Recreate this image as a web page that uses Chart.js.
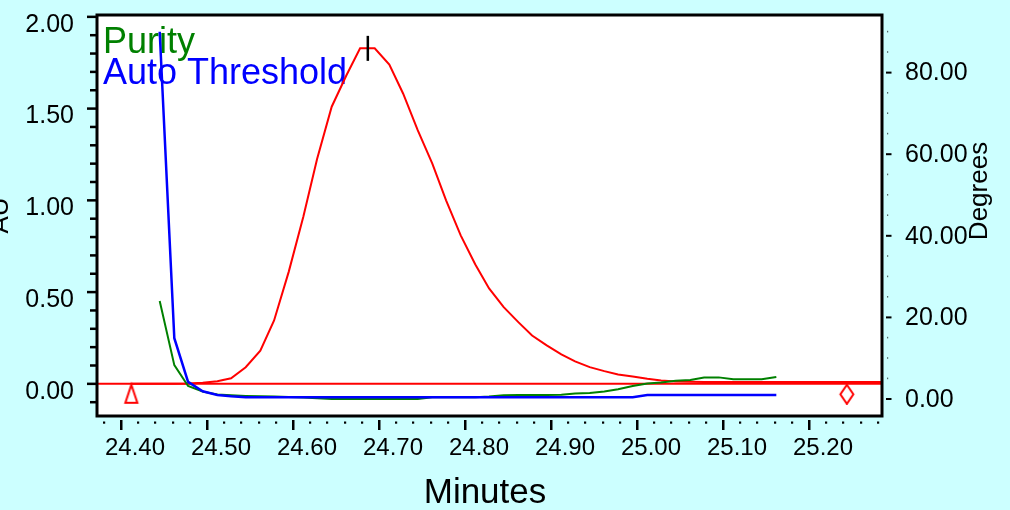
<!DOCTYPE html>
<html>
<head>
<meta charset="utf-8">
<script src="https://cdn.jsdelivr.net/npm/chart.js@4/dist/chart.umd.min.js"></script>
<style>
  html, body { margin: 0; padding: 0; background: #ccffff; }
  canvas { display: block; }
</style>
</head>
<body>
<canvas id="chromatogram" width="1010" height="510"></canvas>
<script>
// Retention times (min), one sample per second
const times = [
  24.412, 24.428, 24.445, 24.462, 24.478, 24.495, 24.512, 24.528, 24.545, 24.562,
  24.578, 24.595, 24.612, 24.628, 24.645, 24.662, 24.678, 24.695, 24.712, 24.728,
  24.745, 24.762, 24.778, 24.795, 24.812, 24.828, 24.845, 24.862, 24.878, 24.895,
  24.912, 24.928, 24.945, 24.962, 24.978, 24.995, 25.012, 25.028, 25.045, 25.062,
  25.078, 25.095, 25.112, 25.128, 25.145, 25.162, 25.178, 25.195, 25.212, 25.228,
  25.245, 25.262, 25.278, 25.295
];

// Absorbance (AU)
const absorbanceAU = [
  0.000, 0.000, 0.000, 0.000, 0.002, 0.006, 0.014, 0.030, 0.090, 0.180,
  0.345, 0.610, 0.910, 1.225, 1.510, 1.680, 1.828, 1.828, 1.740, 1.582,
  1.382, 1.200, 1.000, 0.809, 0.650, 0.520, 0.418, 0.336, 0.263, 0.209,
  0.160, 0.122, 0.091, 0.069, 0.051, 0.040, 0.027, 0.018, 0.013, 0.011,
  0.010, 0.010, 0.010, 0.010, 0.010, 0.010, 0.010, 0.010, 0.010, 0.010,
  0.010, 0.010, 0.010, 0.010
];

// Purity angle (degrees)
const purityDeg = [
  null, null, 24.0, 8.3, 3.2, 1.8, 1.1, 0.9, 0.75, 0.65,
  0.6, 0.5, 0.35, 0.2, 0.0, 0.0, 0.0, 0.0, 0.0, 0.0,
  0.0, 0.4, 0.45, 0.45, 0.45, 0.6, 0.9, 0.95, 1.0, 1.0,
  1.05, 1.35, 1.5, 1.85, 2.4, 3.2, 3.8, 4.05, 4.5, 4.65,
  5.27, 5.3, 4.83, 4.83, 4.83, 5.4, null, null, null, null,
  null, null, null, null
];

// Purity threshold (degrees)
const thresholdDeg = [
  null, null, 90.0, 14.9, 4.2, 1.9, 1.0, 0.65, 0.45, 0.45,
  0.45, 0.45, 0.45, 0.45, 0.45, 0.45, 0.45, 0.45, 0.45, 0.45,
  0.45, 0.45, 0.45, 0.45, 0.45, 0.45, 0.45, 0.45, 0.45, 0.45,
  0.45, 0.45, 0.45, 0.45, 0.45, 0.45, 0.95, 0.95, 0.95, 0.95,
  0.95, 0.95, 0.95, 0.95, 0.95, 0.95, null, null, null, null,
  null, null, null, null
];

// Peak events (min)
const peakStart = 24.412;
const peakApex = 24.687;
const peakEnd = 25.244;

// Axis ticks
const minuteTicks = [24.40, 24.50, 24.60, 24.70, 24.80, 24.90, 25.00, 25.10, 25.20];
const auTicks = [0.00, 0.50, 1.00, 1.50, 2.00];
const degreeTicks = [0, 20, 40, 60, 80];

const seriesNames = ['Purity', 'Auto Threshold'];
const axisTitles = { x: 'Minutes', left: 'AU', right: 'Degrees' };

const FONT = "'Liberation Sans', Arial, Helvetica, sans-serif";
const RED = '#ff0000', GREEN = '#008000', BLUE = '#0000ff';

function toPoints(ys) {
  const pts = [];
  ys.forEach((y, i) => { if (y !== null) pts.push({ x: times[i], y: y }); });
  return pts;
}

// Outlined peak-event glyphs drawn below the baseline point
function eventGlyph(kind) {
  const c = document.createElement('canvas');
  c.width = 18; c.height = 42;
  const g = c.getContext('2d');
  g.strokeStyle = RED; g.lineWidth = 2;
  g.beginPath();
  if (kind === 'start') {
    g.moveTo(9, 22); g.lineTo(15, 40); g.lineTo(3, 40); g.closePath();
  } else {
    g.moveTo(9, 22); g.lineTo(15.5, 31.5); g.lineTo(9, 41); g.lineTo(2.5, 31.5); g.closePath();
  }
  g.stroke();
  return c;
}

const apexValue = Math.max(...absorbanceAU);

// Fixed axis band sizes so the plot frame sits where it should
function fixBand(size) {
  return s => {
    if (s.isHorizontal()) s.height = size; else s.width = size;
    s.paddingTop = 0; s.paddingBottom = 0; s.paddingLeft = 0; s.paddingRight = 0;
  };
}

const frame = {
  id: 'frame',
  beforeDraw(chart) {
    const { ctx, chartArea: a } = chart;
    ctx.save();
    ctx.fillStyle = '#ccffff';
    ctx.fillRect(0, 0, chart.width, chart.height);
    ctx.fillStyle = '#ffffff';
    ctx.fillRect(a.left, a.top, a.right - a.left, a.bottom - a.top);
    ctx.restore();
  },
  beforeDatasetsDraw(chart) {
    const { ctx } = chart;
    ctx.save();
    ctx.font = '36px ' + FONT;
    ctx.textBaseline = 'alphabetic';
    ctx.textAlign = 'left';
    ctx.fillStyle = GREEN;
    ctx.fillText(seriesNames[0], 103, 53);
    ctx.fillStyle = BLUE;
    ctx.fillText(seriesNames[1], 103, 84);
    ctx.restore();
  },
  afterDatasetsDraw(chart) {
    const { ctx, chartArea: a, scales } = chart;
    const x = scales.x, y = scales.y, y2 = scales.y2;
    ctx.save();
    // plot border
    ctx.strokeStyle = '#000000';
    ctx.lineWidth = 3;
    ctx.strokeRect(a.left, a.top, a.right - a.left, a.bottom - a.top);

    ctx.fillStyle = '#000000';
    // bottom axis: major ticks and minor dots
    for (let i = -1; i <= 45; i++) {
      const v = 24.40 + i * 0.02;
      const px = x.getPixelForValue(v);
      if (px < a.left + 2 || px > a.right) continue;
      if (i % 5 === 0) ctx.fillRect(Math.round(px) - 1, a.bottom + 4, 2.5, 10);
      else ctx.fillRect(Math.round(px) - 1, a.bottom + 5.5, 2.2, 2.2);
    }
    // left axis: major and minor ticks every 0.1
    for (let i = -1; i <= 20; i++) {
      const v = i / 10;
      const py = y.getPixelForValue(v);
      if (i % 5 === 0) ctx.fillRect(a.left - 10, py - 1.2, 10, 2.5);
      else ctx.fillRect(a.left - 7, py - 1.2, 7, 2.5);
    }
    // right axis: short dashes at majors, faint marks every 5 degrees
    for (let i = 0; i <= 18; i++) {
      const v = i * 5;
      const py = y2.getPixelForValue(v);
      if (i % 4 === 0) ctx.fillRect(a.right + 4, py - 1, 5.5, 2);
      else { ctx.globalAlpha = 0.6; ctx.fillRect(a.right + 5, py - 1, 1.2, 1.6); ctx.globalAlpha = 1; }
    }

    // axis titles
    ctx.fillStyle = '#000000';
    ctx.font = '35px ' + FONT;
    ctx.textAlign = 'center';
    ctx.textBaseline = 'alphabetic';
    ctx.fillText(axisTitles.x, 485, 503);

    ctx.font = '26px ' + FONT;
    ctx.save();
    ctx.translate(987, 191);
    ctx.rotate(-Math.PI / 2);
    ctx.fillText(axisTitles.right, 0, 0);
    ctx.restore();

    ctx.save();
    ctx.translate(8, (a.top + a.bottom) / 2);
    ctx.rotate(-Math.PI / 2);
    ctx.fillText(axisTitles.left, 0, 0);
    ctx.restore();

    ctx.restore();
  }
};

const xTickFont = { family: FONT, size: 24 };
const yTickFont = { family: FONT, size: 25 };

new Chart(document.getElementById('chromatogram'), {
  type: 'scatter',
  data: {
    datasets: [
      {
        label: 'Apex',
        data: [{ x: peakApex, y: apexValue }],
        yAxisID: 'y',
        showLine: false,
        pointStyle: 'line',
        rotation: 90,
        pointRadius: 12.5,
        pointBorderWidth: 2.5,
        pointBorderColor: '#000000',
        order: 0
      },
      {
        label: 'Peak start',
        data: [{ x: peakStart, y: 0 }],
        yAxisID: 'y',
        showLine: false,
        pointStyle: eventGlyph('start'),
        order: 0
      },
      {
        label: 'Peak end',
        data: [{ x: peakEnd, y: 0 }],
        yAxisID: 'y',
        showLine: false,
        pointStyle: eventGlyph('end'),
        order: 0
      },
      {
        label: seriesNames[1],
        data: toPoints(thresholdDeg),
        yAxisID: 'y2',
        showLine: true,
        borderColor: BLUE,
        borderWidth: 2.5,
        pointRadius: 0,
        order: 1
      },
      {
        label: seriesNames[0],
        data: toPoints(purityDeg),
        yAxisID: 'y2',
        showLine: true,
        borderColor: GREEN,
        borderWidth: 2,
        pointRadius: 0,
        order: 2
      },
      {
        label: 'Absorbance',
        data: toPoints(absorbanceAU),
        yAxisID: 'y',
        showLine: true,
        borderColor: RED,
        borderWidth: 2,
        pointRadius: 0,
        order: 3
      },
      {
        label: 'Baseline',
        data: [{ x: 24.30, y: 0 }, { x: 25.40, y: 0 }],
        yAxisID: 'y',
        showLine: true,
        borderColor: RED,
        borderWidth: 2,
        pointRadius: 0,
        order: 4
      }
    ]
  },
  options: {
    responsive: false,
    animation: false,
    devicePixelRatio: 1,
    layout: { autoPadding: false, padding: { top: 15, left: 0, right: 0, bottom: 0 } },
    plugins: { legend: { display: false }, tooltip: { enabled: false }, title: { display: false } },
    elements: { line: { tension: 0 } },
    scales: {
      x: {
        type: 'linear',
        position: 'bottom',
        min: 24.37209,
        max: 25.28488,
        grid: { display: false },
        border: { display: false },
        afterBuildTicks: s => { s.ticks = minuteTicks.map(v => ({ value: v })); },
        afterFit: fixBand(94),
        ticks: {
          font: xTickFont, color: '#000000', padding: 10, labelOffset: 14,
          maxRotation: 0, autoSkip: false,
          callback: v => Number(v).toFixed(2)
        }
      },
      y: {
        type: 'linear',
        position: 'left',
        min: -0.1755,
        max: 2.0098,
        grid: { display: false },
        border: { display: false },
        afterBuildTicks: s => { s.ticks = auTicks.map(v => ({ value: v })); },
        afterFit: fixBand(97),
        ticks: {
          font: yTickFont, color: '#000000', padding: 15, labelOffset: 8,
          callback: v => Number(v).toFixed(2)
        }
      },
      y2: {
        type: 'linear',
        position: 'right',
        min: -4.167,
        max: 94.12,
        grid: { display: false },
        border: { display: false },
        afterBuildTicks: s => { s.ticks = degreeTicks.map(v => ({ value: v })); },
        afterFit: fixBand(128),
        ticks: {
          font: yTickFont, color: '#000000', padding: 15, labelOffset: 1,
          callback: v => Number(v).toFixed(2)
        }
      }
    }
  },
  plugins: [frame]
});
</script>
</body>
</html>
